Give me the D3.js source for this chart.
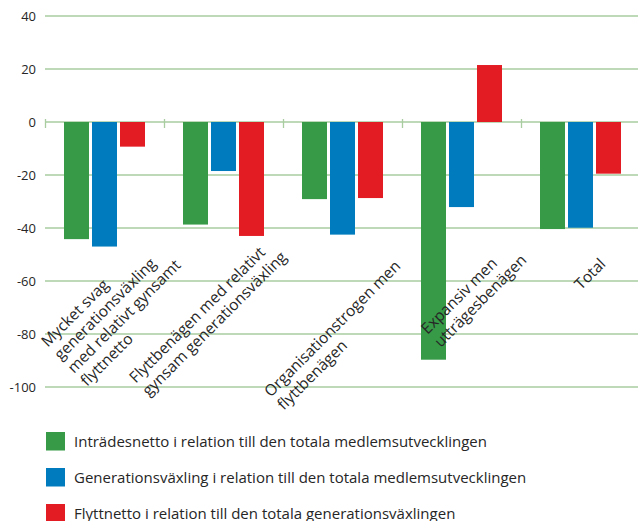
<!DOCTYPE html>
<html>
<head>
<meta charset="utf-8">
<script src="https://cdn.jsdelivr.net/npm/d3@7"></script>
<style>
    body { margin: 0; background: #fff; }
    svg text { font-family: "Open Sans", "Noto Sans", sans-serif; fill: #262626; }
    .grid { stroke: #a9cca0; stroke-width: 1.3; }
</style>
</head>
<body>
<script>
//wrap everything in a self-executing anonymous function
(function(){

//chart data
var categories = ["c1", "c2", "c3", "c4", "c5"];
var categoryLabels = [
    ["Mycket svag", "generationsväxling", "med relativt gynsamt", "flyttnetto"],
    ["Flyttbenägen med relativt", "gynsam generationsväxling"],
    ["Organisationstrogen men", "flyttbenägen"],
    ["Expansiv men", "utträgesbenägen"],
    ["Total"]
];
var seriesNames = [
    "Inträdesnetto i relation till den totala medlemsutvecklingen",
    "Generationsväxling i relation till den totala medlemsutvecklingen",
    "Flyttnetto i relation till den totala generationsväxlingen"
];
var intradesnetto = [-44.2, -38.7, -29.1, -89.7, -40.4];
var generationsvaxling = [-47.0, -18.5, -42.5, -32.1, -39.9];
var flyttnetto = [-9.3, -43.0, -28.7, 21.5, -19.5];
var yTicks = [40, 20, 0, -20, -40, -60, -80, -100];
var colors = ["#379a47", "#007bbd", "#e31b23"];

//hand nudges for the rotated labels (the original places them unevenly)
var labelShift = [[5, -10], [5, -5], [13, 17], [7, -2], [-20, 15]];

window.onload = setChart();

function setChart(){

    var width = 638,
        height = 521;

    var svg = d3.select("body")
        .append("svg")
        .attr("width", width)
        .attr("height", height);

    //scales
    var y = d3.scaleLinear()
        .domain([-100, 40])
        .range([387, 16]);

    var x = d3.scaleBand()
        .domain(categories)
        .range([45, 640]);

    var x1 = d3.scaleBand()
        .domain([0, 1, 2])
        .range([0, 81])
        .paddingInner(3 / 28);

    var groupOffset = (x.bandwidth() - 81) / 2;

    //gridlines
    svg.selectAll(".grid")
        .data(yTicks)
        .enter()
        .append("line")
        .attr("class", "grid")
        .attr("x1", 45)
        .attr("x2", width)
        .attr("y1", function(d){ return y(d); })
        .attr("y2", function(d){ return y(d); });

    //category ticks on zero line
    svg.selectAll(".catTick")
        .data(categories)
        .enter()
        .append("line")
        .attr("class", "grid")
        .attr("x1", function(d){ return x(d) + 0.5; })
        .attr("x2", function(d){ return x(d) + 0.5; })
        .attr("y1", y(0) - 3)
        .attr("y2", y(0) + 6);

    //y axis labels
    svg.selectAll(".yLabel")
        .data(yTicks)
        .enter()
        .append("text")
        .attr("class", "yLabel")
        .attr("x", 36)
        .attr("y", function(d){ return y(d); })
        .attr("dy", "0.35em")
        .attr("text-anchor", "end")
        .style("font-size", "13px")
        .text(function(d){ return d; });

    //bars
    var series = [intradesnetto, generationsvaxling, flyttnetto];
    series.forEach(function(values, s){
        svg.selectAll(".bar" + s)
            .data(values)
            .enter()
            .append("rect")
            .attr("class", "bar" + s)
            .attr("x", function(d, i){ return x(categories[i]) + groupOffset + x1(s); })
            .attr("width", x1.bandwidth())
            .attr("y", function(d){ return y(Math.max(0, d)); })
            .attr("height", function(d){ return Math.abs(y(d) - y(0)); })
            .style("fill", colors[s]);
    });

    //rotated category labels, left-aligned lines
    var lineHeight = 18.5;
    categoryLabels.forEach(function(lines, i){
        var g = svg.append("g");
        var texts = g.selectAll("text")
            .data(lines)
            .enter()
            .append("text")
            .attr("y", function(d, j){ return j * lineHeight; })
            .style("font-size", "15.5px")
            .text(function(d){ return d; });
        var maxW = d3.max(texts.nodes(), function(n){ return n.getComputedTextLength(); });
        texts.attr("x", -maxW);
        var ax = x(categories[i]) + x.bandwidth() / 2 + 46 + labelShift[i][0],
            ay = 250 + labelShift[i][1];
        g.attr("transform", "translate(" + ax + "," + ay + ") rotate(-45)");
    });

    //legend
    var legend = svg.selectAll(".legend")
        .data(seriesNames)
        .enter()
        .append("g")
        .attr("class", "legend")
        .attr("transform", function(d, i){ return "translate(46," + (432 + i * 36) + ")"; });

    legend.append("rect")
        .attr("width", 19)
        .attr("height", 18.5)
        .style("fill", function(d, i){ return colors[i]; });

    legend.append("text")
        .attr("x", 28)
        .attr("y", 14.5)
        .style("font-size", "15px")
        .text(function(d){ return d; });
};

})();
</script>
</body>
</html>
